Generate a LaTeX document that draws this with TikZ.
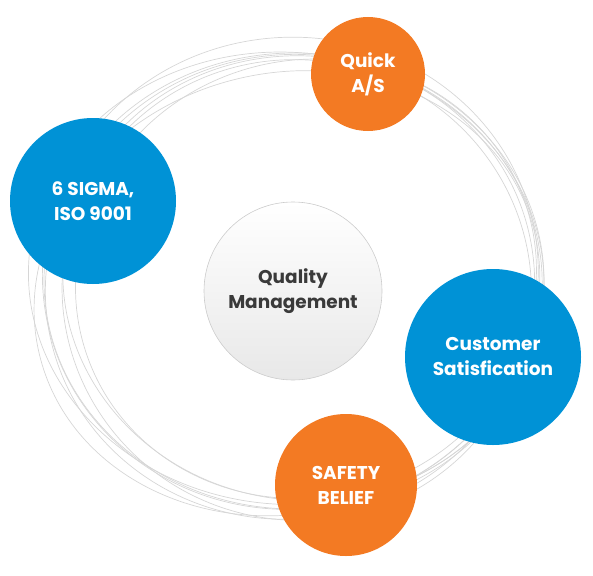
\documentclass[tikz,border=0pt]{standalone}
\usepackage{fontspec}
\setmainfont{Poppins}
\definecolor{qorange}{HTML}{F37A23}
\definecolor{qblue}{HTML}{0092D6}
\definecolor{qtext}{HTML}{3A3A3A}
\definecolor{qring}{HTML}{D6D6D6}
\tikzset{
  bubble/.style={circle, inner sep=0pt, align=center, text=white,
    font=\bfseries\fontsize{18.5}{25}\selectfont},
  orangebubble/.style={bubble, fill=qorange},
  bluebubble/.style={bubble, fill=qblue},
  ring/.style={draw=qring, line width=0.7pt}
}
\begin{document}
\begin{tikzpicture}[x=1pt,y=-1pt]
  \useasboundingbox (0,0) rectangle (593,575);
  % thin rings behind the bubbles
  \coordinate (hub) at (294,281);
  \foreach \dx/\dy/\rx/\ry/\rot in {0/0/250/228/0, -5/5/245/232/10, 8/-4/240/222/-8,
      -10/10/255/220/15, 5/8/235/230/-15, -3/-8/248/236/5, 12/2/232/218/20, -8/-2/258/226/-5}
    \draw[ring, rotate around={\rot:(hub)}] ([shift={(\dx,\dy)}]hub) ellipse [x radius=\rx, y radius=\ry];
  % centre
  \node[circle, minimum size=178pt, draw=black!20, line width=0.6pt,
        top color=white, bottom color=black!9, text=qtext, align=center,
        font=\bfseries\fontsize{18.5}{25}\selectfont] (quality) at (293,291) {Quality\\Management};
  % outer bubbles
  \node[orangebubble, minimum size=114pt] (quick) at (368,74) {Quick\\A/S};
  \node[bluebubble, minimum size=166pt] (sigma) at (93,201) {6 SIGMA,\\ISO 9001};
  \node[bluebubble, minimum size=176pt] (customer) at (493,357) {Customer\\Satisfication};
  \node[orangebubble, minimum size=142pt] (safety) at (346,485) {SAFETY\\BELIEF};
\end{tikzpicture}
\end{document}
